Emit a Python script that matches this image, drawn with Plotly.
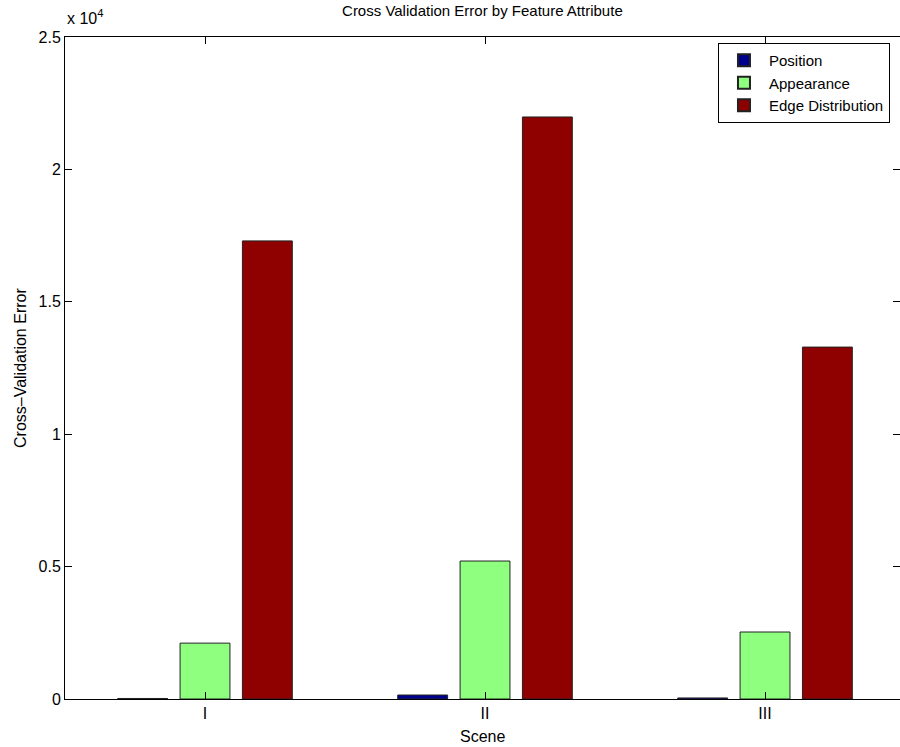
import plotly.graph_objects as go

scenes = ["I", "II", "III"]
position = [20, 150, 40]
appearance = [2110, 5210, 2530]
edge_distribution = [17300, 21980, 13290]

series_names = ["Position", "Appearance", "Edge Distribution"]
series_colors = ["#00008f", "#8fff80", "#8f0000"]

ytick_vals = [0, 5000, 10000, 15000, 20000, 25000]
ytick_text = ["0", "0.5", "1", "1.5", "2", "2.5"]

FONT = "Liberation Sans, Arial, Helvetica, sans-serif"

fig = go.Figure()
for name, vals, col in zip(series_names, [position, appearance, edge_distribution], series_colors):
    fig.add_trace(go.Bar(
        x=scenes, y=vals, name=name,
        marker=dict(color=col, line=dict(color="#222222", width=1)),
    ))

fig.update_layout(
    width=900, height=747,
    margin=dict(l=65, r=0, t=37, b=48),
    paper_bgcolor="white", plot_bgcolor="white",
    font=dict(family=FONT, size=16, color="black"),
    barmode="group", bargap=0.332, bargroupgap=0.2,
    title=dict(text="Cross Validation Error by Feature Attribute",
               x=0.536, xanchor="center", y=0.992, yanchor="top",
               font=dict(size=15, family=FONT, color="black")),
    showlegend=True,
    legend=dict(x=0.988, xanchor="right", y=0.991, yanchor="top",
                bordercolor="black", borderwidth=1, bgcolor="white",
                font=dict(size=15, family=FONT), traceorder="normal",
                itemsizing="constant", tracegroupgap=0, itemwidth=40),
    xaxis=dict(range=[-0.5, 2.482], showline=True, linecolor="black", linewidth=1,
               mirror="ticks", ticks="inside", ticklen=7, tickcolor="black",
               showgrid=False, zeroline=False, tickfont=dict(size=16)),
    yaxis=dict(range=[0, 25000], tickvals=ytick_vals, ticktext=ytick_text,
               showline=True, linecolor="black", linewidth=1, mirror="ticks",
               ticks="inside", ticklen=7, tickcolor="black",
               showgrid=False, zeroline=False, tickfont=dict(size=16)),
    annotations=[
        dict(text="x 10<sup>4</sup>", xref="paper", yref="paper", x=0.0, y=1.012,
             xanchor="left", yanchor="bottom", showarrow=False,
             font=dict(size=16, family=FONT)),
        dict(text="Cross–Validation Error", xref="paper", yref="paper",
             x=-0.0539, y=0.5, xanchor="center", yanchor="middle", textangle=-90,
             showarrow=False, font=dict(size=16, family=FONT)),
        dict(text="Scene", xref="paper", yref="paper", x=0.5, y=-0.0574,
             xanchor="center", yanchor="middle", showarrow=False,
             font=dict(size=16, family=FONT)),
    ],
)

fig.write_html("out.html")
